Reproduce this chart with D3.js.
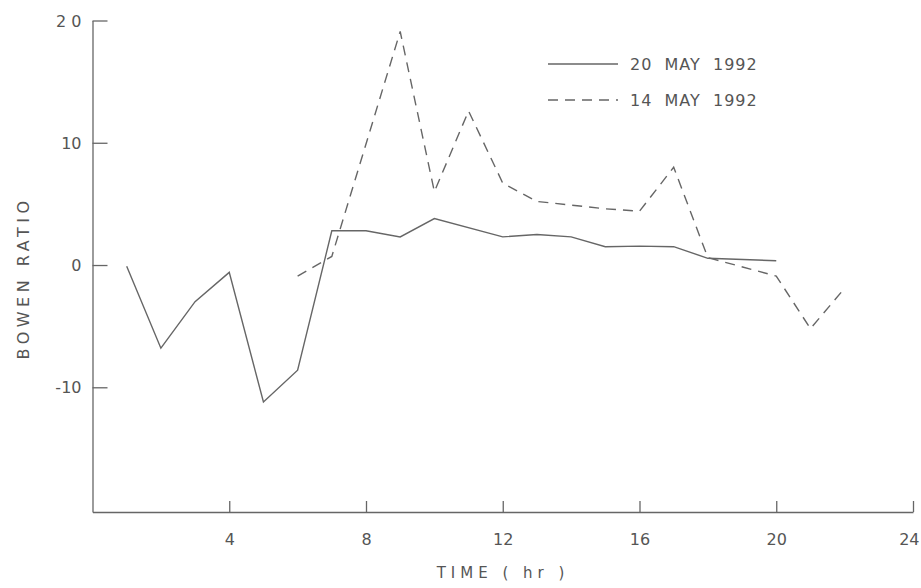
<!DOCTYPE html>
<html>
<head>
<meta charset="utf-8">
<script src="https://cdn.jsdelivr.net/npm/d3@7"></script>
<style>
  body { margin: 0; background: #fff; }
  text { font-family: "DejaVu Sans", sans-serif; fill: #555; }
</style>
</head>
<body>
<div class="chart"></div>
<script>
// 20 May 1992 (solid)
var may20Hours = [1, 2, 3, 4, 5, 6, 7, 8, 9, 10, 12, 13, 14, 15, 16, 17, 18, 20];
var may20Ratio = [-0.1, -6.8, -3.0, -0.6, -11.2, -8.6, 2.8, 2.8, 2.3, 3.8, 2.3, 2.5, 2.3, 1.5, 1.55, 1.5, 0.55, 0.35];
// 14 May 1992 (dashed)
var may14Hours = [6, 7, 9, 10, 11, 12, 13, 14, 15, 16, 17, 18, 20, 21, 22];
var may14Ratio = [-0.9, 0.7, 19.1, 6.0, 12.6, 6.7, 5.2, 4.9, 4.6, 4.4, 8.0, 0.6, -0.9, -5.2, -1.9];

var xTicks = [4, 8, 12, 16, 20, 24];
var yTicks = [-10, 0, 10, 20];
var legendLabels = ['20  MAY  1992', '14  MAY  1992'];

var width = 921, height = 588;
var svg = d3.select('.chart').append('svg').attr('width', width).attr('height', height);

var x = d3.scaleLinear().domain([0, 24]).range([92.5, 913]);
var y = d3.scaleLinear().domain([-20.2, 20]).range([512, 20.5]);

var lineColor = '#666';

// axes: ticks point inward
var xAxis = svg.append('g').attr('transform', 'translate(0,' + y(-20.2) + ')')
  .call(d3.axisTop(x).tickValues(xTicks).tickSize(11).tickSizeOuter(0).tickFormat(''));
xAxis.selectAll('.tick').append('text')
  .attr('y', 27).attr('dy', '0.35em')
  .attr('text-anchor', function(d) { return d === 24 ? 'end' : 'middle'; })
  .attr('x', function(d) { return d === 24 ? 6 : 0; })
  .style('font-size', '16px')
  .text(function(d) { return d; });

var yAxis = svg.append('g').attr('transform', 'translate(' + x(0) + ',0)')
  .call(d3.axisRight(y).tickValues(yTicks).tickSize(15).tickSizeOuter(0).tickFormat(''));
yAxis.selectAll('.tick').append('text')
  .attr('x', -11).attr('text-anchor', 'end').attr('dy', '0.35em')
  .style('font-size', '16px')
  .text(function(d) { return d === 20 ? '2 0' : d; });

svg.selectAll('.domain, .tick line').attr('stroke', lineColor).attr('stroke-width', 1.3);

// axis titles
svg.append('text')
  .attr('x', 503).attr('y', 578).attr('text-anchor', 'middle')
  .style('font-size', '15px').style('letter-spacing', '5px')
  .text('TIME ( hr )');

svg.append('text')
  .attr('transform', 'translate(29,278) rotate(-90)')
  .attr('text-anchor', 'middle')
  .style('font-size', '16px').style('letter-spacing', '4.5px')
  .text('BOWEN RATIO');

var line = d3.line()
  .x(function(d) { return x(d[0]); })
  .y(function(d) { return y(d[1]); });

svg.append('path')
  .datum(d3.zip(may20Hours, may20Ratio))
  .attr('d', line)
  .attr('fill', 'none').attr('stroke', lineColor).attr('stroke-width', 1.4);

svg.append('path')
  .datum(d3.zip(may14Hours, may14Ratio))
  .attr('d', line)
  .attr('fill', 'none').attr('stroke', lineColor).attr('stroke-width', 1.4)
  .attr('stroke-dasharray', '10,7');

// legend
var legend = svg.append('g');
legendLabels.forEach(function(label, i) {
  var ly = 64 + i * 36;
  legend.append('line')
    .attr('x1', 548).attr('x2', 618).attr('y1', ly).attr('y2', ly)
    .attr('stroke', lineColor).attr('stroke-width', 1.4)
    .attr('stroke-dasharray', i === 1 ? '10,7' : null);
  legend.append('text')
    .attr('x', 630).attr('y', ly).attr('dy', '0.35em')
    .style('font-size', '16px').style('letter-spacing', '1px')
    .style('white-space', 'pre').attr('xml:space', 'preserve')
    .text(label);
});
</script>
</body>
</html>
